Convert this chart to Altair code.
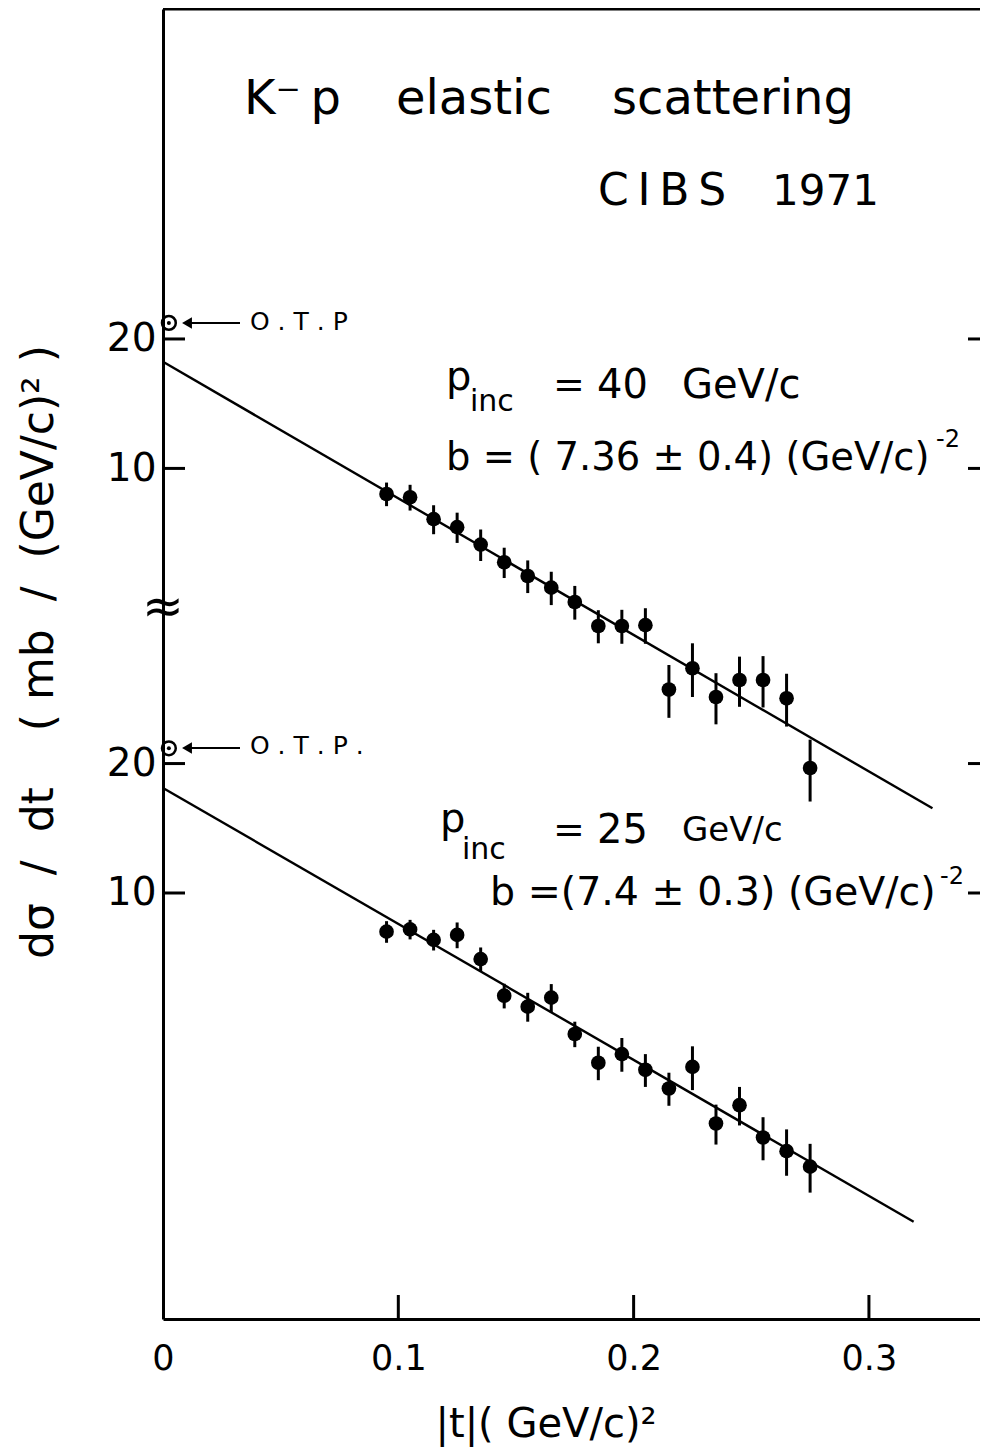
import numpy as np
import pandas as pd
import altair as alt

# ---------------- data ----------------
t_vals = [0.095, 0.105, 0.115, 0.125, 0.135, 0.145, 0.155, 0.165, 0.175, 0.185,
          0.195, 0.205, 0.215, 0.225, 0.235, 0.245, 0.255, 0.265, 0.275]

# p_inc = 40 GeV/c
upper_v = [8.72, 8.57, 7.62, 7.30, 6.65, 6.05, 5.62, 5.28, 4.89, 4.30,
           4.30, 4.32, 3.06, 3.43, 2.94, 3.22, 3.22, 2.92, 2.01]
upper_err = [0.55, 0.59, 0.59, 0.59, 0.56, 0.49, 0.49, 0.47, 0.44, 0.38,
             0.39, 0.41, 0.43, 0.49, 0.40, 0.43, 0.44, 0.41, 0.33]

# p_inc = 25 GeV/c
lower_v = [8.13, 8.23, 7.78, 7.99, 7.02, 5.77, 5.44, 5.71, 4.70, 4.03,
           4.22, 3.88, 3.51, 3.94, 2.91, 3.21, 2.70, 2.51, 2.31]
lower_err = [0.47, 0.43, 0.43, 0.55, 0.45, 0.38, 0.42, 0.43, 0.32, 0.36,
             0.38, 0.34, 0.31, 0.46, 0.31, 0.33, 0.31, 0.31, 0.30]

# fitted exponential lines (end points)
upper_fit_t = [0.0, 0.327]
upper_fit_v = [17.7, 1.62]
lower_fit_t = [0.0, 0.319]
lower_fit_v = [17.55, 1.72]

# optical theorem points
otp_t = [0.0025, 0.0025]
otp_v = [21.8, 21.7]
otp_set = ["upper", "lower"]

# axis tick values (in each stacked panel)
ytick_vals = [10, 20]
xtick_vals = [0.0, 0.1, 0.2, 0.3]

# vertical offset (in decades) of the upper data set on the shared log axis
OFFSET = {"lower": 0.0, "upper": 0.9874}

# ---------------- layout ----------------
W, H = 817, 1310
X0, Y0 = 163, 9            # page position of the plot's top-left corner
U_DOMAIN = [0.0093, 3.0558]
T_DOMAIN = [0.0, 0.3472]
FONT = "DejaVu Sans"
NB = "\u00a0"


def u_of(v, s):
    return np.log10(np.asarray(v, dtype=float)) + OFFSET[s]


rows = []
for s, vals, errs in (("upper", upper_v, upper_err), ("lower", lower_v, lower_err)):
    for t, v, e in zip(t_vals, vals, errs):
        rows.append(dict(set=s, t=t, u=float(u_of(v, s)),
                         ulo=float(u_of(v - e, s)), uhi=float(u_of(v + e, s))))
pts = pd.DataFrame(rows)

fit = pd.DataFrame(
    [dict(set="upper", t=t, u=float(u_of(v, "upper"))) for t, v in zip(upper_fit_t, upper_fit_v)]
    + [dict(set="lower", t=t, u=float(u_of(v, "lower"))) for t, v in zip(lower_fit_t, lower_fit_v)]
)

otp = pd.DataFrame([dict(set=s, t=t, u=float(u_of(v, s))) for s, t, v in zip(otp_set, otp_t, otp_v)])

yticks = pd.DataFrame([dict(u=float(u_of(v, s)), lab=str(v))
                       for s in ("upper", "lower") for v in ytick_vals])
xticks = pd.DataFrame(dict(t=xtick_vals[1:]))

xs = alt.Scale(domain=T_DOMAIN, nice=False, zero=False)
ys = alt.Scale(domain=U_DOMAIN, nice=False, zero=False)

label_map = " : ".join(
    f"abs(datum.value - {r.u:.5f}) < 0.005 ? '{r.lab}'" for r in yticks.itertuples()
) + " : ''"

base_axes = alt.Chart(pts).mark_point(opacity=0).encode(
    x=alt.X("t:Q", scale=xs,
            axis=alt.Axis(values=xtick_vals, ticks=False, grid=False, title=None,
                          labelExpr="datum.value == 0 ? '0' : format(datum.value, '.1f')",
                          labelFontSize=35, labelFont=FONT, labelColor="black",
                          labelFlush=False, labelPadding=22, domainWidth=3,
                          domainColor="black")),
    y=alt.Y("u:Q", scale=ys,
            axis=alt.Axis(values=list(yticks["u"]), ticks=False, grid=False, title=None,
                          labelExpr=label_map, labelFontSize=39, labelFont=FONT,
                          labelColor="black", labelPadding=7, domainWidth=3,
                          domainColor="black")),
)

errbars = alt.Chart(pts).mark_rule(color="black", strokeWidth=3).encode(
    x=alt.X("t:Q", scale=xs), y=alt.Y("ulo:Q", scale=ys), y2="uhi:Q")

dots = alt.Chart(pts).mark_circle(color="black", opacity=1, size=215).encode(
    x=alt.X("t:Q", scale=xs), y=alt.Y("u:Q", scale=ys))

fitlines = alt.Chart(fit).mark_line(color="black", strokeWidth=2.4).encode(
    x=alt.X("t:Q", scale=xs), y=alt.Y("u:Q", scale=ys), detail="set:N")

otp_ring = alt.Chart(otp).mark_point(shape="circle", filled=False, color="black",
                                     opacity=1, strokeWidth=2.5, size=190).encode(
    x=alt.X("t:Q", scale=xs), y=alt.Y("u:Q", scale=ys))
otp_dot = alt.Chart(otp).mark_circle(color="black", opacity=1, size=16).encode(
    x=alt.X("t:Q", scale=xs), y=alt.Y("u:Q", scale=ys))

# inward ticks on the left and right edges
left_ticks = alt.Chart(yticks).mark_rule(color="black", strokeWidth=3).encode(
    y=alt.Y("u:Q", scale=ys), x=alt.value(0), x2=alt.value(22))
right_ticks = alt.Chart(yticks).mark_rule(color="black", strokeWidth=3).encode(
    y=alt.Y("u:Q", scale=ys), x=alt.value(W - 12), x2=alt.value(W))
bottom_ticks = alt.Chart(xticks).mark_rule(color="black", strokeWidth=3).encode(
    x=alt.X("t:Q", scale=xs), y=alt.value(H - 24), y2=alt.value(H))

one = pd.DataFrame(dict(a=[0]))
top_border = alt.Chart(one).mark_rule(color="black", strokeWidth=3).encode(
    x=alt.value(0), x2=alt.value(W), y=alt.value(0))


def txt(s, px, py, size, align="left", baseline="middle", angle=0):
    return alt.Chart(one).mark_text(
        text=s, font=FONT, fontSize=size, color="black", align=align,
        baseline=baseline, angle=angle,
    ).encode(x=alt.value(px - X0), y=alt.value(py - Y0))


def arrow(py):
    line = alt.Chart(one).mark_rule(color="black", strokeWidth=2.2).encode(
        x=alt.value(188 - X0), x2=alt.value(240 - X0), y=alt.value(py - Y0))
    head = alt.Chart(one).mark_point(shape="triangle-left", filled=True, color="black",
                                     opacity=1, size=130).encode(
        x=alt.value(187 - X0), y=alt.value(py - Y0))
    return line + head


ytitle = NB.join(["dσ", "", "/", "", "dt", "", "", "", "(", "mb", "", "/", "", "(GeV/c)²", ")"])
xtitle = "|t|(" + NB + "GeV/c)²"

texts = [
    txt("K⁻\u2009p", 244, 100, 48),
    txt("elastic", 396, 100, 48),
    txt("scattering", 612, 100, 48),
    txt("C\u2009I\u2009B\u2009S", 598, 192, 44),
    txt("1971", 772, 192, 42),
    # upper annotation
    txt("p", 446, 378, 40),
    txt("inc", 470, 402, 30),
    txt("=", 553, 386, 38),
    txt("40", 597, 386, 40),
    txt("GeV/c", 682, 386, 40),
    txt("b = ( 7.36 ± 0.4) (GeV/c)", 446, 458, 38.5),
    txt("-2", 936, 440, 24),
    # lower annotation
    txt("p", 440, 820, 40),
    txt("inc", 462, 850, 30),
    txt("=", 553, 831, 38),
    txt("25", 597, 831, 40),
    txt("GeV/c", 682, 831, 34),
    txt("b =(7.4 ± 0.3) (GeV/c)", 490, 893, 39.5),
    txt("-2", 940, 877, 24),
    # optical theorem labels
    txt("O . T . P", 250, 322, 25),
    txt("O . T . P .", 250, 746, 25),
    txt("≈", 163, 608, 50, align="center"),
    txt(ytitle, 40, 652, 44, align="center", angle=270),
    txt(xtitle, 546, 1425, 40, align="center"),
]

chart = alt.layer(
    base_axes, top_border, left_ticks, right_ticks, bottom_ticks,
    fitlines, errbars, dots, otp_ring, otp_dot, arrow(323), arrow(748), *texts,
).properties(
    width=W, height=H,
    autosize=alt.AutoSizeParams(type="none"),
    padding={"left": X0 - 8, "top": Y0 - 8, "right": 0, "bottom": 128},
    background="white",
).configure_view(stroke=None)

chart.save("out.html", embed_options={"renderer": "svg", "actions": False})
